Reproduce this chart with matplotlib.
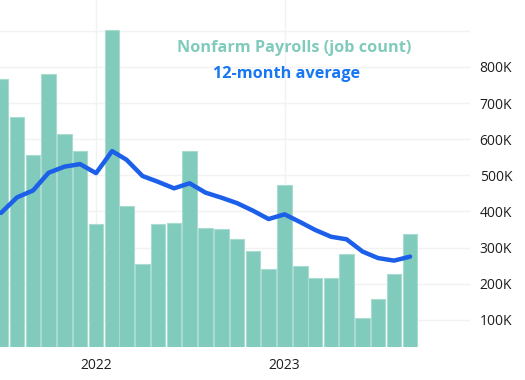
import matplotlib
matplotlib.use('Agg')
import matplotlib.pyplot as plt
import matplotlib.dates as mdates
import numpy as np

plt.rcParams['font.family'] = ['Open Sans', 'DejaVu Sans']

# Monthly nonfarm payrolls (job count) and 12-month average
months = ['2021-07', '2021-08', '2021-09', '2021-10', '2021-11', '2021-12',
          '2022-01', '2022-02', '2022-03', '2022-04', '2022-05', '2022-06',
          '2022-07', '2022-08', '2022-09', '2022-10', '2022-11', '2022-12',
          '2023-01', '2023-02', '2023-03', '2023-04', '2023-05', '2023-06',
          '2023-07', '2023-08', '2023-09']
payrolls = [767, 662, 556, 780, 614, 568,
            364, 902, 415, 255, 364, 369,
            568, 353, 351, 325, 291, 240,
            472, 249, 217, 217, 281, 105,
            158, 228, 337]
avg_12m = [396, 439, 458, 507, 524, 531,
           506, 567, 543, 498, 482, 464,
           478, 452, 438, 423, 402, 379,
           392, 370, 349, 330, 323, 289,
           271, 264, 275]

dates = np.array([np.datetime64(m + '-01') for m in months])
pay = np.array(payrolls) * 1000
avg = np.array(avg_12m) * 1000

bar_color = '#80cbbc'
line_color = '#1c5fe8'

fig = plt.figure(figsize=(5.25, 3.8), dpi=100)
ax = fig.add_axes([0, 33 / 380, 470 / 525, 347 / 380])

ax.bar(dates, pay, width=28, color=bar_color, edgecolor='#a9dcd1',
       linewidth=0.8, zorder=2)
ax.plot(dates, avg, color=line_color, linewidth=3.2, zorder=3,
        solid_capstyle='round', solid_joinstyle='round')

ax.set_xlim(np.datetime64('2021-06-29'), np.datetime64('2023-12-26'))
ax.set_ylim(25000, 985000)

ax.xaxis.set_major_locator(mdates.YearLocator())
ax.xaxis.set_major_formatter(mdates.DateFormatter('%Y'))
ticks = np.arange(100000, 900001, 100000)
ax.set_yticks(ticks)
ax.set_yticklabels([f'{int(v / 1000)}K' if v < 900000 else '' for v in ticks])
ax.yaxis.tick_right()
ax.tick_params(axis='y', length=0, pad=7, labelsize=10, labelcolor='#1e1e1e')
ax.tick_params(axis='x', length=0, pad=8, labelsize=10, labelcolor='#1e1e1e')

ax.grid(True, color='#f2f2f2', linewidth=1, zorder=0)
ax.set_axisbelow(True)
for s in ax.spines.values():
    s.set_visible(False)

fig.text(294 / 525, 1 - 48 / 380, 'Nonfarm Payrolls (job count)', color=bar_color,
         fontsize=11.7, fontweight='bold', ha='center', va='center')
fig.text(287 / 525, 1 - 74 / 380, '12-month average', color='#1877f2',
         fontsize=11.7, fontweight='bold', ha='center', va='center')

fig.savefig('out.png', dpi=100)
